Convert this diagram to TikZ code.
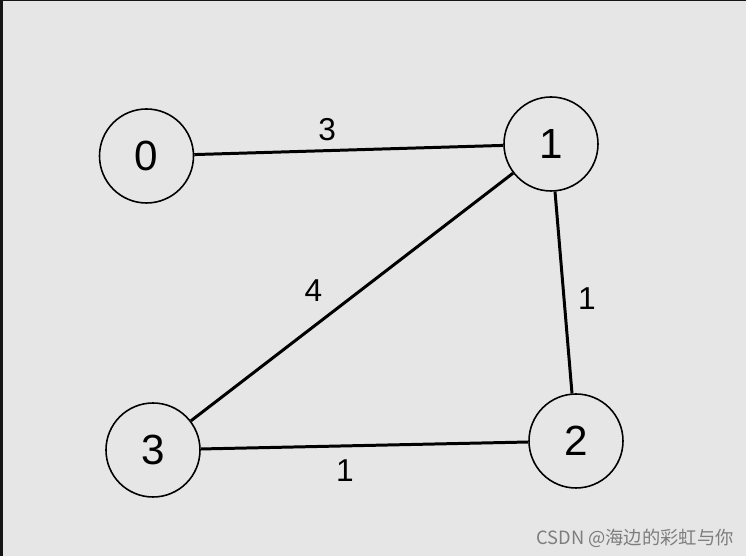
\documentclass[tikz,border=0pt]{standalone}
\usepackage{fontspec}
\setmainfont{Liberation Sans}
\newfontfamily\cjk{Noto Sans CJK SC}
\usetikzlibrary{arrows,shapes}
\definecolor{bgray}{HTML}{E6E6E6}
\definecolor{edgedark}{HTML}{151515}
\definecolor{wmgray}{HTML}{7D7D7D}
\tikzstyle{vert}=[circle,draw=black,line width=0.9pt,minimum size=1.88cm,inner sep=0pt,font=\fontsize{24}{28}\selectfont]
\tikzstyle{wgraph}=[line width=1.7pt]
\tikzstyle{lbl}=[inner sep=0pt,font=\fontsize{18}{21}\selectfont]

\begin{document}
\begin{tikzpicture}[wgraph]
\fill[bgray] (0,0) rectangle (14.92,11.12);
\fill[edgedark] (0,0) rectangle (0.06,11.12);
\fill[edgedark] (0,11.10) rectangle (14.92,11.12);
\useasboundingbox (0,0) rectangle (14.92,11.12);
\node[vert] (V0) at (2.93,8.00) {0};
\node[vert] (V1) at (11.02,8.24) {1};
\node[vert] (V2) at (11.52,2.30) {2};
\node[vert] (V3) at (3.06,2.12) {3};
\draw (V0)--node[lbl,pos=0.43,yshift=12pt]{3}(V1);
\draw (V1)--node[lbl,pos=0.56,xshift=-11pt,yshift=12pt]{4}(V3);
\draw (V1)--node[lbl,pos=0.54,xshift=13pt,yshift=1pt]{1}(V2);
\draw (V3)--node[lbl,pos=0.44,yshift=-14pt]{1}(V2);
\node[text=wmgray,font=\cjk\fontsize{10.4}{12}\selectfont] (WM) at (12.70,0.36) {CSDN @海边的彩虹与你};
\end{tikzpicture}
\end{document}
